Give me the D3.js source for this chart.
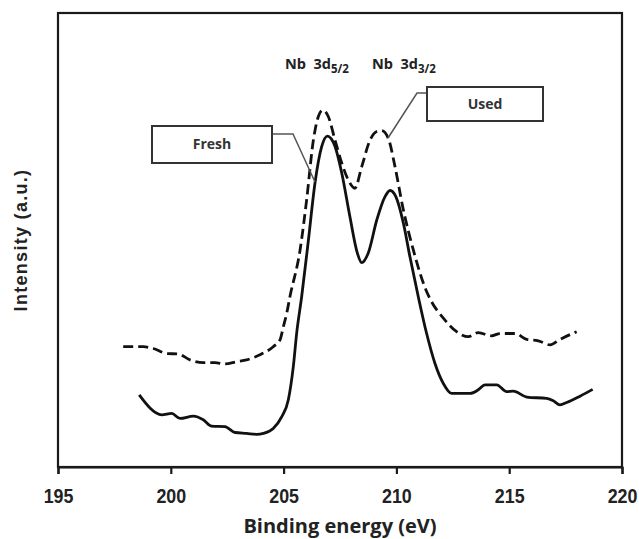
<!DOCTYPE html>
<html>
<head>
<meta charset="utf-8">
<script src="https://cdn.jsdelivr.net/npm/d3@7"></script>
<style>
  body { margin: 0; background: #fff; }
  svg { display: block; }
</style>
</head>
<body>
<div id="chart"></div>
<script>
// Nb 3d XPS, fresh vs used catalyst (intensity in arbitrary units)
const freshEnergy = [198.60, 199.60, 200.04, 200.41, 201.00, 201.44, 201.81, 202.40, 202.85, 203.36,
  203.81, 204.10, 204.54, 204.92, 205.21, 205.43, 205.58, 205.80, 206.10, 206.39, 206.69, 206.94,
  207.28, 207.58, 207.94, 208.27, 208.46, 208.75, 209.13, 209.49, 209.72, 209.98, 210.31, 210.60,
  210.97, 211.34, 211.71, 212.08, 212.45, 213.26, 213.63, 213.93, 214.45, 214.89, 215.18, 215.78,
  216.66, 216.95, 217.25, 217.55, 218.14, 218.70];
const freshIntensity = [15.9, 11.5, 11.8, 10.7, 11.2, 10.4, 9.0, 8.9, 7.6, 7.4,
  7.2, 7.4, 8.5, 11.1, 14.8, 22.1, 29.5, 37.5, 50.0, 62.5, 70.6, 72.9,
  70.6, 64.7, 55.1, 47.1, 45.0, 47.1, 54.4, 59.5, 60.9, 59.5, 53.7, 46.3,
  37.5, 29.4, 22.8, 18.4, 16.2, 16.2, 17.0, 18.1, 18.1, 16.6, 16.7, 15.4,
  15.1, 14.6, 13.7, 14.2, 15.6, 17.1];

const usedEnergy = [197.89, 198.78, 199.22, 199.82, 200.33, 200.85, 201.44, 201.96, 202.40, 202.92,
  203.36, 203.95, 204.54, 204.84, 204.99, 205.14, 205.28, 205.73, 206.02, 206.32, 206.54, 206.73,
  206.98, 207.28, 207.58, 207.87, 208.16, 208.46, 208.83, 209.13, 209.35, 209.64, 209.94, 210.31,
  210.75, 211.31, 211.56, 212.08, 212.67, 213.19, 213.63, 214.22, 214.59, 215.26, 215.78, 216.29,
  216.81, 217.25, 217.99];
const usedIntensity = [26.5, 26.5, 26.1, 25.0, 24.9, 23.6, 23.0, 23.0, 22.7, 23.2,
  23.6, 24.7, 26.5, 28.0, 30.9, 33.9, 37.5, 47.8, 58.8, 72.0, 77.2, 78.6,
  77.2, 72.0, 66.9, 63.2, 61.4, 66.1, 72.0, 73.9, 74.1, 72.4, 66.1, 56.6,
  47.8, 39.0, 36.4, 32.8, 29.8, 28.7, 29.6, 28.9, 29.4, 29.4, 28.1, 27.8,
  26.9, 28.1, 29.8];

const xTicks = [195, 200, 205, 210, 215, 220];

const width = 639, height = 539;
const margin = { top: 13, right: 17, bottom: 72, left: 58 };

const svg = d3.select("#chart").append("svg")
  .attr("width", width)
  .attr("height", height);

const x = d3.scaleLinear().domain([195, 220]).range([margin.left, width - margin.right]);
const y = d3.scaleLinear().domain([0, 100]).range([height - margin.bottom, margin.top]);

// frame
svg.append("rect")
  .attr("x", margin.left)
  .attr("y", margin.top)
  .attr("width", width - margin.left - margin.right)
  .attr("height", height - margin.top - margin.bottom)
  .attr("fill", "none")
  .attr("stroke", "#1a1a1a")
  .attr("stroke-width", 2.2);

// x axis
const xAxis = svg.append("g")
  .attr("transform", `translate(0, ${height - margin.bottom})`)
  .call(d3.axisBottom(x).tickValues(xTicks).tickSize(7).tickPadding(14).tickFormat(d3.format("d")));
xAxis.select(".domain").attr("stroke", "#1a1a1a").attr("stroke-width", 2.2);
xAxis.selectAll(".tick line").attr("stroke", "#1a1a1a").attr("stroke-width", 2.2);
xAxis.selectAll(".tick text")
  .attr("font-family", "'Liberation Sans', Arial, sans-serif")
  .attr("font-weight", "bold")
  .attr("font-size", 21)
  .attr("transform", "scale(0.85,1)")
  .attr("fill", "#222");

svg.append("text")
  .attr("x", (margin.left + width - margin.right) / 2)
  .attr("y", 533)
  .attr("text-anchor", "middle")
  .attr("font-family", "'Open Sans', sans-serif")
  .attr("font-weight", "bold")
  .attr("font-size", 20)
  .attr("fill", "#222")
  .text("Binding energy (eV)");

svg.append("text")
  .attr("transform", `translate(27, ${(margin.top + height - margin.bottom) / 2}) rotate(-90)`)
  .attr("text-anchor", "middle")
  .attr("font-family", "'Liberation Sans', Arial, sans-serif")
  .attr("font-weight", "bold")
  .attr("font-size", 18)
  .attr("letter-spacing", 1.3)
  .attr("fill", "#222")
  .text("Intensity (a.u.)");

// spectra
const line = d3.line()
  .x(d => x(d[0]))
  .y(d => y(d[1]))
  .curve(d3.curveMonotoneX);

svg.append("path")
  .datum(d3.zip(usedEnergy, usedIntensity))
  .attr("d", line)
  .attr("fill", "none")
  .attr("stroke", "#111")
  .attr("stroke-width", 2.8)
  .attr("stroke-dasharray", "10,5");

svg.append("path")
  .datum(d3.zip(freshEnergy, freshIntensity))
  .attr("d", line)
  .attr("fill", "none")
  .attr("stroke", "#111")
  .attr("stroke-width", 2.8);

// peak labels
const labelFont = "'Open Sans', 'Noto Sans', sans-serif";
function peakLabel(px, sub) {
  const t = svg.append("text")
    .attr("x", px)
    .attr("y", 69)
    .attr("font-family", labelFont)
    .attr("font-weight", "bold")
    .attr("font-size", 14.5)
    .attr("fill", "#222");
  t.append("tspan").text("Nb\u00a0\u00a03d");
  t.append("tspan").attr("dy", 4).attr("font-size", 11.5).text(sub);
}
peakLabel(285, "5/2");
peakLabel(372, "3/2");

// callout boxes
function callout(bx, by, bw, bh, label, pts) {
  svg.append("path")
    .attr("d", d3.line()(pts))
    .attr("fill", "none")
    .attr("stroke", "#555")
    .attr("stroke-width", 1.5);
  svg.append("rect")
    .attr("x", bx).attr("y", by)
    .attr("width", bw).attr("height", bh)
    .attr("fill", "#fff")
    .attr("stroke", "#333")
    .attr("stroke-width", 2);
  svg.append("text")
    .attr("x", bx + bw / 2)
    .attr("y", by + bh / 2)
    .attr("dy", "0.35em")
    .attr("text-anchor", "middle")
    .attr("font-family", labelFont)
    .attr("font-weight", "bold")
    .attr("font-size", 14)
    .attr("fill", "#333")
    .text(label);
}
callout(152, 126, 120, 37, "Fresh", [[272, 134], [293, 134], [315, 182]]);
callout(427, 87, 116, 34, "Used", [[427, 93], [417, 93], [388, 138]]);
</script>
</body>
</html>
